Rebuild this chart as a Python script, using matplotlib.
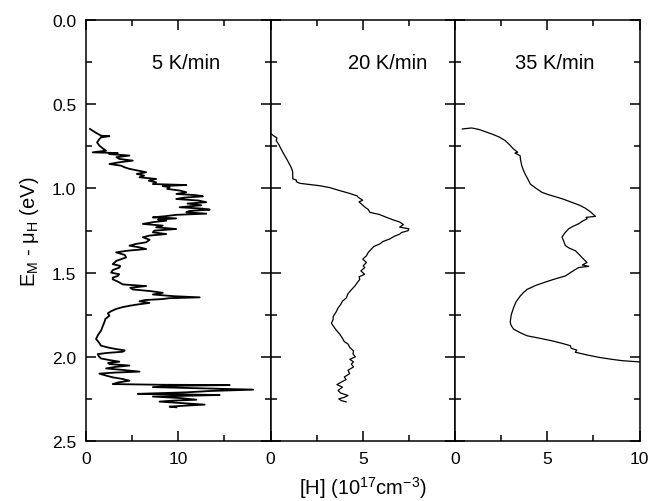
import matplotlib
matplotlib.use("Agg")
import matplotlib.pyplot as plt
from matplotlib.ticker import MultipleLocator, FixedLocator, FormatStrFormatter

plt.rcParams['font.family'] = ['Liberation Sans', 'DejaVu Sans']
plt.rcParams['mathtext.default'] = 'regular'

# 5 K/min : energy (eV), [H] (1e17 cm^-3)
e5 = [0.647, 0.667, 0.687, 0.690, 0.697, 0.707, 0.727, 0.746, 0.766, 0.776,
      0.786, 0.790, 0.796, 0.805, 0.815, 0.825, 0.835, 0.845, 0.855, 0.865,
      0.875, 0.884, 0.894, 0.904, 0.914, 0.924, 0.934, 0.944, 0.954, 0.964,
      0.974, 0.980, 0.986, 0.993, 1.003, 1.013, 1.023, 1.033, 1.040, 1.047,
      1.055, 1.063, 1.072, 1.082, 1.090, 1.100, 1.112, 1.120, 1.126, 1.134,
      1.142, 1.150, 1.157, 1.165, 1.172, 1.178, 1.185, 1.192, 1.200, 1.211,
      1.221, 1.231, 1.241, 1.251, 1.261, 1.271, 1.280, 1.290, 1.305, 1.320,
      1.330, 1.340, 1.350, 1.360, 1.370, 1.380, 1.395, 1.410, 1.430, 1.450,
      1.460, 1.470, 1.485, 1.500, 1.510, 1.520, 1.530, 1.540, 1.555, 1.570,
      1.580, 1.590, 1.600, 1.610, 1.620, 1.630, 1.640, 1.647, 1.652, 1.657,
      1.663, 1.670, 1.680, 1.690, 1.697, 1.706, 1.716, 1.730, 1.742, 1.756,
      1.775, 1.795, 1.820, 1.845, 1.870, 1.894, 1.915, 1.934, 1.945, 1.954,
      1.962, 1.970, 1.977, 1.984, 1.998, 2.010, 2.020, 2.029, 2.036, 2.043,
      2.052, 2.060, 2.069, 2.078, 2.088, 2.094, 2.100, 2.112, 2.122, 2.132,
      2.142, 2.152, 2.162, 2.166, 2.168, 2.172, 2.180, 2.187, 2.195, 2.203,
      2.211, 2.216, 2.220, 2.223, 2.227, 2.232, 2.236, 2.245, 2.255, 2.260,
      2.266, 2.275, 2.284, 2.290, 2.296, 2.300]
h5 = [0.43, 1.0, 1.63, 2.54, 1.63, 1.45, 1.2, 1.45, 1.9, 2.17,
      0.72, 3.44, 2.5, 4.71, 3.3, 3.62, 5.07, 3.6, 2.54, 3.8,
      4.2, 4.71, 5.6, 6.52, 5.5, 6.3, 5.80, 7.61, 6.8, 7.6,
      7.25, 10.87, 8.3, 9.06, 8.8, 10.2, 10.87, 9.8, 11.9, 12.68,
      10.6, 9.78, 12.2, 13.04, 11.0, 12.5, 10.14, 12.6, 13.41, 11.2,
      10.87, 13.04, 9.78, 8.6, 7.25, 9.78, 7.8, 8.70, 7.3, 6.16,
      8.33, 7.6, 9.78, 7.4, 7.25, 8.70, 6.9, 6.16, 6.9, 6.52,
      5.4, 4.71, 5.8, 6.52, 4.5, 3.26, 4.2, 4.35, 3.3, 2.90,
      3.7, 3.62, 2.9, 2.72, 3.6, 3.44, 2.9, 2.90, 3.5, 3.99,
      6.52, 4.8, 5.07, 7.0, 8.33, 7.25, 9.5, 12.32, 9.0, 8.33,
      6.4, 5.80, 6.88, 5.5, 4.71, 3.9, 3.26, 2.7, 2.36, 2.54,
      2.1, 1.99, 1.8, 1.63, 1.3, 1.09, 1.4, 1.63, 2.4, 3.26,
      4.2, 3.99, 2.3, 1.27, 1.4, 1.63, 2.6, 3.62, 2.4, 2.54,
      4.71, 3.2, 2.17, 4.0, 5.80, 3.0, 1.45, 2.2, 2.90, 4.0,
      4.71, 3.5, 2.90, 8.0, 15.58, 10.0, 7.25, 12.5, 18.12, 13.5,
      10.87, 8.0, 5.62, 10.0, 14.49, 10.5, 7.25, 10.2, 11.96, 9.5,
      7.97, 10.5, 12.86, 10.8, 9.06, 9.8]

# 20 K/min
e20 = [0.677, 0.690, 0.700, 0.716, 0.740, 0.786, 0.830, 0.875, 0.900, 0.944,
       0.950, 0.960, 0.970, 0.984, 0.995, 1.013, 1.030, 1.045, 1.053, 1.070,
       1.080, 1.093, 1.110, 1.125, 1.142, 1.155, 1.172, 1.185, 1.200, 1.215,
       1.230, 1.240, 1.251, 1.262, 1.271, 1.285, 1.300, 1.315, 1.330, 1.345,
       1.360, 1.380, 1.400, 1.420, 1.440, 1.460, 1.470, 1.490, 1.510, 1.525,
       1.540, 1.560, 1.580, 1.600, 1.625, 1.650, 1.670, 1.690, 1.710, 1.735,
       1.760, 1.780, 1.800, 1.815, 1.840, 1.865, 1.890, 1.910, 1.924, 1.945,
       1.965, 1.983, 2.000, 2.015, 2.030, 2.043, 2.060, 2.080, 2.100, 2.120,
       2.135, 2.150, 2.165, 2.180, 2.200, 2.215, 2.230, 2.240, 2.250, 2.260,
       2.268]
h20 = [0.04, 0.2, 0.35, 0.31, 0.45, 0.67, 0.9, 1.12, 1.2, 1.21,
       1.4, 1.40, 1.6, 2.66, 3.2, 3.75, 4.3, 4.7, 4.75, 5.0,
       4.8, 4.93, 5.1, 5.3, 5.38, 5.9, 6.29, 6.6, 7.01, 7.2,
       7.0, 7.5, 7.46, 7.1, 7.01, 6.7, 6.47, 6.1, 5.92, 5.6,
       5.47, 5.3, 5.20, 5.0, 5.2, 5.02, 5.11, 4.9, 5.1, 4.8,
       4.84, 4.7, 4.57, 4.4, 4.2, 4.11, 3.9, 3.8, 3.66, 3.55,
       3.4, 3.39, 3.3, 3.39, 3.55, 3.75, 3.9, 4.0, 4.20, 4.3,
       4.5, 4.47, 4.6, 4.3, 4.5, 4.38, 4.5, 4.2, 4.29, 4.0,
       4.1, 3.84, 3.6, 3.9, 3.66, 3.8, 4.2, 4.02, 3.7, 3.84,
       4.1]

# 35 K/min
e35 = [0.647, 0.641, 0.650, 0.677, 0.695, 0.716, 0.740, 0.766, 0.785, 0.790,
       0.806, 0.830, 0.865, 0.890, 0.915, 0.945, 0.974, 1.000, 1.023, 1.035,
       1.049, 1.065, 1.083, 1.100, 1.118, 1.140, 1.166, 1.172, 1.180, 1.195,
       1.210, 1.225, 1.240, 1.265, 1.290, 1.315, 1.340, 1.355, 1.370, 1.395,
       1.420, 1.440, 1.455, 1.463, 1.470, 1.490, 1.520, 1.535, 1.550, 1.575,
       1.600, 1.620, 1.640, 1.675, 1.710, 1.750, 1.795, 1.815, 1.835, 1.855,
       1.875, 1.890, 1.905, 1.920, 1.934, 1.950, 1.960, 1.973, 1.990, 2.003,
       2.015, 2.023, 2.030, 2.035]
h35 = [0.4, 0.9, 1.3, 2.0, 2.4, 2.72, 2.95, 3.17, 3.4, 3.25,
       3.53, 3.55, 3.62, 3.7, 3.8, 3.95, 4.08, 4.4, 4.71, 5.0,
       5.43, 5.9, 6.34, 6.75, 7.07, 7.35, 7.61, 7.1, 7.16, 6.9,
       6.70, 6.4, 6.16, 5.95, 5.80, 5.9, 5.98, 6.2, 6.52, 6.75,
       6.97, 7.15, 6.9, 7.25, 6.70, 6.4, 5.98, 5.5, 5.07, 4.4,
       3.90, 3.7, 3.53, 3.3, 3.17, 3.05, 2.99, 3.05, 3.17, 3.5,
       3.90, 4.6, 5.25, 5.8, 6.25, 6.3, 6.6, 6.52, 7.2, 7.79,
       8.5, 9.06, 9.95, 10.3]

rates = ['5 K/min', '20 K/min', '35 K/min']
xmax = [20, 10, 10]
xtick_labels = [['0', '10', ''], ['0', '5', ''], ['0', '5', '10']]

fig = plt.figure(figsize=(6.5, 5.02), dpi=100)
left0 = 86 / 650
w = 184.5 / 650
bottom = 1 - 442 / 502
h = 421 / 502

curves = [(h5, e5), (h20, e20), (h35, e35)]
label_x = [7.17, 4.18, 3.26]
line_w = [1.3, 0.9, 0.9]
axes = []
for i in range(3):
    ax = fig.add_axes([left0 + i * w, bottom, w, h])
    axes.append(ax)
    xs, ys = curves[i]
    ax.plot(xs, ys, color='black', lw=line_w[i])
    ax.set_xlim(0, xmax[i])
    ax.set_ylim(2.5, 0.0)
    step = xmax[i] / 4
    ax.xaxis.set_major_locator(FixedLocator([0, 2 * step, 4 * step]))
    ax.xaxis.set_minor_locator(FixedLocator([step, 3 * step]))
    ax.set_xticklabels(xtick_labels[i])
    ax.yaxis.set_major_locator(MultipleLocator(0.5))
    ax.yaxis.set_minor_locator(MultipleLocator(0.25))
    ax.yaxis.set_major_formatter(FormatStrFormatter('%.1f'))
    ax.tick_params(which='both', direction='in', top=True, right=True,
                   width=1.1, labelsize=12.5, pad=7)
    ax.tick_params(which='major', length=7.5)
    ax.tick_params(which='minor', length=4)
    for s in ax.spines.values():
        s.set_linewidth(1.1)
    if i == 0:
        ax.set_ylabel(r'E$_M$ - μ$_H$ (eV)', fontsize=14.5, labelpad=8)
    else:
        ax.tick_params(axis='y', labelleft=False)
    ax.text(label_x[i], 0.25, rates[i], fontsize=14.5, ha='left', va='center')

axes[1].set_xlabel(r'[H] (10$^{17}$cm$^{-3}$)', fontsize=14.5, labelpad=6)

fig.savefig('out.png', dpi=100)
